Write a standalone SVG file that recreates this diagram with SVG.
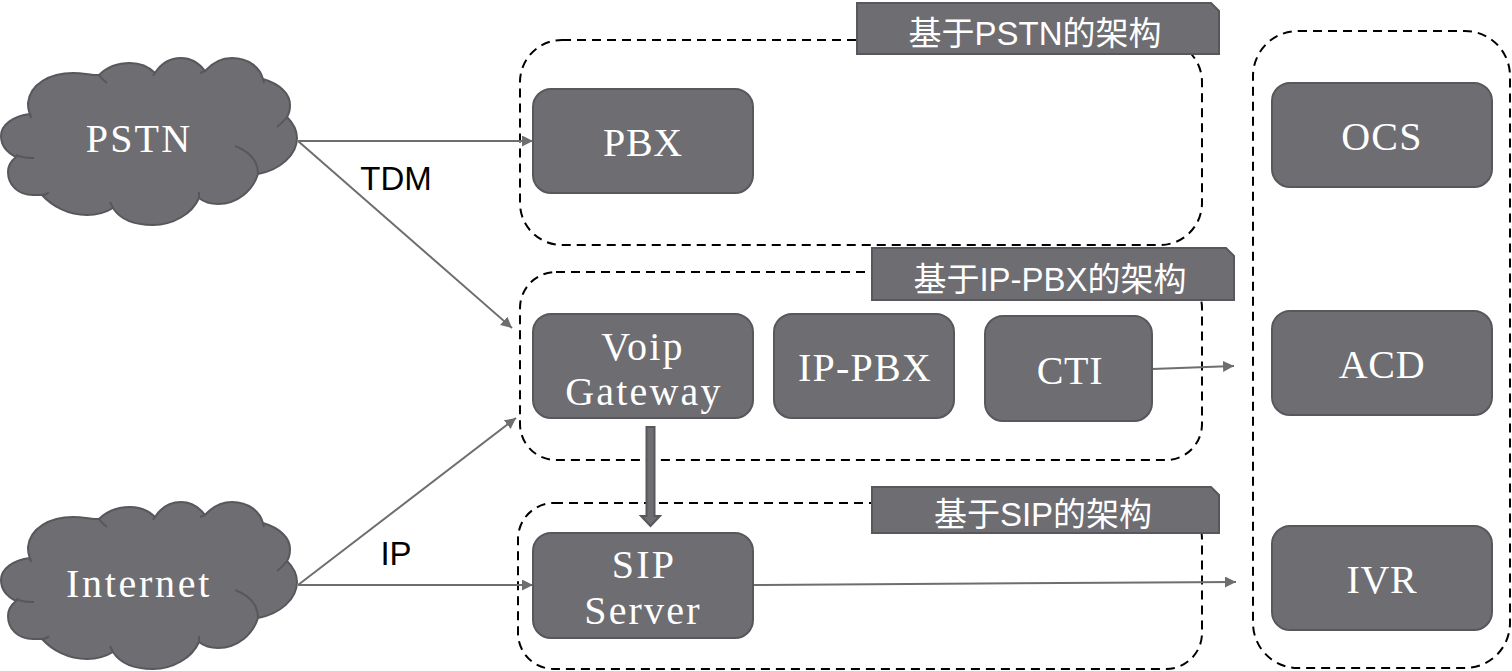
<svg xmlns="http://www.w3.org/2000/svg" width="1512" height="671" viewBox="0 0 1512 671">
<style>
.shape{fill:#6d6d72;stroke:#58585c;stroke-width:2}
.tick{fill:none;stroke:#58585c;stroke-width:2}
.dash{fill:none;stroke:#000;stroke-width:2;stroke-dasharray:9 6}
.conn{fill:none;stroke:#6e6e6e;stroke-width:2;marker-end:url(#arr)}
.lbl{font-family:"Liberation Serif",serif;font-size:40px;fill:#fff;text-anchor:middle;letter-spacing:1.2px}
.wide{letter-spacing:2.2px}
.tight{letter-spacing:.7px}
.tag{font-family:"Liberation Sans","Noto Sans CJK SC",sans-serif;font-size:33px;fill:#fff;text-anchor:middle}
.note{font-family:"Liberation Sans",sans-serif;font-size:33px;fill:#000;text-anchor:middle}
</style>
<defs>
<marker id="arr" markerUnits="userSpaceOnUse" markerWidth="12" markerHeight="12" refX="11" refY="5.5" orient="auto"><path d="M0 0L11 5.5L0 11z" fill="#6e6e6e"/></marker>
<g id="cloud">
<path class="shape" d="M30 114C28 110 28 106 28 103C30 84 50 73 73 73C83 73 92 75 99 75C107 67 118 63 130 63C140 63 149 67 155 73C162 62 171 58 181 58C190 58 199 63 205 71C213 62 222 58 232 58C249 58 260 68 263 79C280 84 290 94 290 105C290 110 289 114 287 117C294 124 297 131 297 138C297 155 280 170 258 174C253 190 238 204 218 204C210 204 204 202 199 198C192 214 173 225 153 225C134 225 120 219 113 208C105 213 96 215 87 215C68 215 52 206 42 195C38 195 35 195 33 195C18 195 8 185 8 172C8 166 11 161 16 157C6 152 1 144 1 136C1 125 13 116 30 114Z"/>
<path class="tick" d="M34 158C26 158 20 157 16 155M30 114L31 118M107 83C103 80 101 78 99 75M155 73L153 76M205 71L200 73M263 79L264 83M287 117C284 121 281 124 277 127M258 174C258 160 248 151 235 146M199 198L199 192M113 208L110 202M42 195C45 195 47 194 49 192"/>
</g>
</defs>
<g id="groups">
<rect id="group-pstn" class="dash" x="520" y="40" width="682" height="205" rx="42"/>
<rect id="group-ippbx" class="dash" x="520" y="272" width="682" height="188" rx="36"/>
<rect id="group-sip" class="dash" x="518" y="503" width="684" height="166" rx="36"/>
<rect id="group-right" class="dash" x="1253" y="31" width="257" height="637" rx="45"/>
</g>
<g id="connectors">
<path class="conn" d="M298 141H533"/>
<path class="conn" d="M298 141L512 328"/>
<path class="conn" d="M298 585L516 418"/>
<path class="conn" d="M298 585H533"/>
<path class="conn" d="M1152 369L1234 366"/>
<path class="conn" d="M753 585L1236 582"/>
<path d="M646.500 427H654.500V516H660L650.500 526L641 516H646.500Z" fill="#6d6d72" stroke="#58585c" stroke-width="2"/>
</g>
<g id="pstn"><use href="#cloud"/><text class="lbl wide" x="139" y="152">PSTN</text></g>
<g id="internet"><use href="#cloud" y="444"/><text class="lbl" x="139" y="597" style="letter-spacing:2.7px">Internet</text></g>
<g id="tag-pstn"><path class="shape" d="M857 3H1211L1219 11V54H857Z"/><text class="tag" x="1035" y="45">基于PSTN的架构</text></g>
<g id="tag-ippbx"><path class="shape" d="M872 248H1226L1234 256V300H872Z"/><text class="tag" x="1050" y="291">基于IP-PBX的架构</text></g>
<g id="tag-sip"><path class="shape" d="M872 487H1211L1219 495V533H872Z"/><text class="tag" x="1043" y="526">基于SIP的架构</text></g>
<g id="pbx"><rect class="shape" x="533" y="89" width="220" height="104" rx="18"/><text class="lbl tight" x="643" y="156">PBX</text></g>
<g id="voip"><rect class="shape" x="533" y="314" width="220" height="104" rx="18"/><text class="lbl wide" x="643" y="360">Voip</text><text class="lbl wide" x="644" y="405">Gateway</text></g>
<g id="ip-pbx"><rect class="shape" x="774" y="314" width="180" height="104" rx="18"/><text class="lbl" x="865" y="381">IP-PBX</text></g>
<g id="cti"><rect class="shape" x="985" y="316" width="167" height="105" rx="18"/><text class="lbl tight" x="1070" y="384">CTI</text></g>
<g id="sip"><rect class="shape" x="533" y="533" width="220" height="105" rx="18"/><text class="lbl wide" x="644" y="578">SIP</text><text class="lbl wide" x="643" y="624">Server</text></g>
<g id="ocs"><rect class="shape" x="1272" y="83" width="220" height="104" rx="18"/><text class="lbl" x="1382" y="150">OCS</text></g>
<g id="acd"><rect class="shape" x="1272" y="311" width="220" height="104" rx="18"/><text class="lbl tight" x="1382" y="378">ACD</text></g>
<g id="ivr"><rect class="shape" x="1272" y="526" width="220" height="104" rx="18"/><text class="lbl tight" x="1382" y="593">IVR</text></g>
<text class="note" x="396" y="190">TDM</text>
<text class="note" x="396" y="565">IP</text>
</svg>
